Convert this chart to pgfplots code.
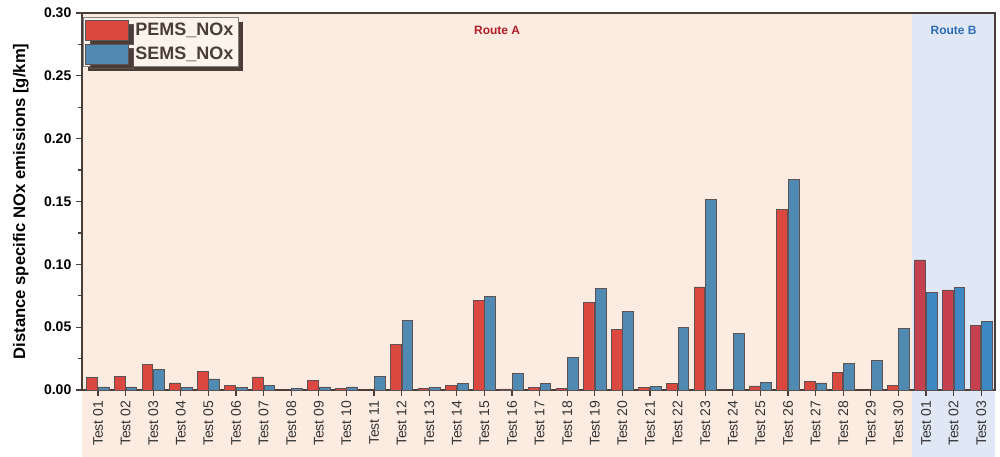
\documentclass[border=0pt]{standalone}
\usepackage{fontspec}
\setmainfont{Liberation Sans}
\usepackage{pgfplots}
\pgfplotsset{compat=1.18}
\usetikzlibrary{shadows}
\definecolor{pemsA}{HTML}{DA4840}
\definecolor{semsA}{HTML}{5089B1}
\definecolor{pemsB}{HTML}{C6404F}
\definecolor{semsB}{HTML}{3D87C3}
\definecolor{bgA}{HTML}{FCEBE1}
\definecolor{bgB}{HTML}{E1E8F5}
\definecolor{edgec}{HTML}{5E5252}
\definecolor{darkbr}{HTML}{4A3C36}
\definecolor{routeA}{HTML}{B01E28}
\definecolor{routeB}{HTML}{2E6DB4}
\begin{document}
\begin{tikzpicture}
\begin{axis}[
  set layers,
  scale only axis,
  width=684.75pt, height=282.75pt,
  xmin=-0.58, xmax=32.5,
  ymin=0, ymax=0.30,
  clip=false,
  axis line style={darkbr, line width=1pt},
  tick align=outside,
  xtick pos=bottom, ytick pos=left,
  major tick length=4.5pt, minor tick length=3pt,
  every tick/.style={darkbr, line width=0.9pt},
  xtick={0,...,32},
  xticklabels={Test 01,Test 02,Test 03,Test 04,Test 05,Test 06,Test 07,Test 08,Test 09,Test 10,Test 11,Test 12,Test 13,Test 14,Test 15,Test 16,Test 17,Test 18,Test 19,Test 20,Test 21,Test 22,Test 23,Test 24,Test 25,Test 26,Test 27,Test 28,Test 29,Test 30,Test 01,Test 02,Test 03},
  x tick label style={rotate=90, anchor=east, font=\fontsize{10.5}{12}\selectfont, text=black!80},
  ytick={0,0.05,0.10,0.15,0.20,0.25,0.30},
  minor y tick num=1,
  y tick label style={font=\bfseries\fontsize{10.5}{12}\selectfont},
  /pgf/number format/assume math mode=true,
  yticklabel style={/pgf/number format/.cd, fixed, fixed zerofill, precision=2},
  ylabel={Distance specific NOx emissions [g/km]},
  ylabel style={at={(axis description cs:-0.067,0.5)}, anchor=center, rotate=0, font=\bfseries\fontsize{12.5}{14}\selectfont},
  ybar, bar width=0.39,
  legend style={at={(axis description cs:0.001,0.989)}, anchor=north west,
    fill=bgA!60!white, draw=gray, line width=0.6pt,
    font=\bfseries\fontsize{13.5}{15}\selectfont, text=darkbr,
    inner sep=1.5pt, row sep=2.5pt,
    /tikz/every odd column/.append style={column sep=3pt},
    drop shadow={shadow xshift=3.5pt, shadow yshift=-3.5pt, fill=darkbr, opacity=1}},
  legend cell align=left,
  legend image code/.code={\draw[#1, line width=0.6pt] (0pt,-7.5pt) rectangle (32pt,7.5pt);},
]
\begin{pgfonlayer}{axis background}
\fill[bgA] (axis cs:-0.58,-0.0533) rectangle (axis cs:29.48,0.30);
\fill[bgB] (axis cs:29.48,-0.0533) rectangle (axis cs:32.5,0.30);
\end{pgfonlayer}
\coordinate (sw) at (rel axis cs:0,0);
\coordinate (ne) at (rel axis cs:1,1);
\addplot[fill=pemsA, draw=edgec, line width=0.5pt, bar shift=-0.21] coordinates {
(0,0.0101) (1,0.011) (2,0.0202) (3,0.0056) (4,0.0149) (5,0.0037) (6,0.0104)
(8,0.0077) (9,0.001) (11,0.036) (12,0.001) (13,0.0035) (14,0.071) (15,0.0008)
(16,0.0021) (17,0.0013) (18,0.0695) (19,0.0483) (20,0.0018) (21,0.0053) (22,0.082)
(24,0.0032) (25,0.144) (26,0.0066) (27,0.0138) (29,0.0034)};
\addlegendentry{PEMS\_NOx}
\addplot[fill=semsA, draw=edgec, line width=0.5pt, bar shift=0.21] coordinates {
(0,0.0024) (1,0.0024) (2,0.0167) (3,0.002) (4,0.0088) (5,0.002) (6,0.0035)
(7,0.0013) (8,0.0024) (9,0.0024) (10,0.011) (11,0.0557) (12,0.002) (13,0.005)
(14,0.0748) (15,0.0133) (16,0.0053) (17,0.026) (18,0.081) (19,0.0626) (20,0.0026)
(21,0.0499) (22,0.1515) (23,0.0448) (24,0.0058) (25,0.1675) (26,0.0056) (27,0.0212)
(28,0.0236) (29,0.049)};
\addlegendentry{SEMS\_NOx}
\addplot[fill=pemsB, draw=edgec, line width=0.5pt, bar shift=-0.21, forget plot] coordinates {
(30,0.1035) (31,0.0796) (32,0.0512)};
\addplot[fill=semsB, draw=edgec, line width=0.5pt, bar shift=0.21, forget plot] coordinates {
(30,0.0775) (31,0.0817) (32,0.0549)};
\node[font=\bfseries\fontsize{9}{10}\selectfont, text=routeA] at (axis cs:14.46,0.2865) {Route A};
\node[font=\bfseries\fontsize{9}{10}\selectfont, text=routeB] at (axis cs:31.0,0.2865) {Route B};
\end{axis}
\pgfresetboundingbox
\path[use as bounding box] ([xshift=-61.5pt,yshift=-50.25pt]sw) rectangle ([xshift=3.75pt,yshift=9.75pt]ne);
\end{tikzpicture}
\end{document}
